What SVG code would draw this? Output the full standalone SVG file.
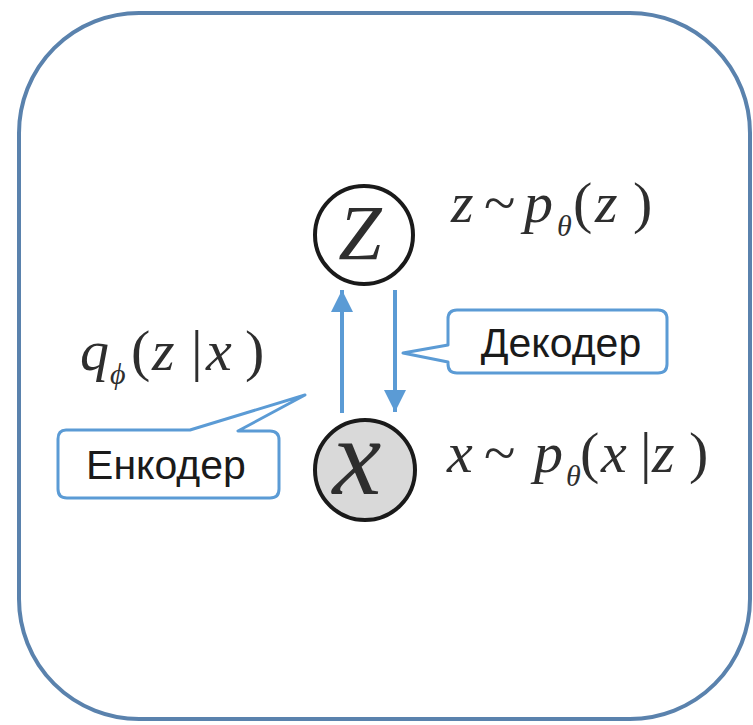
<svg xmlns="http://www.w3.org/2000/svg" width="753" height="725" viewBox="0 0 753 725">
<style>
.frame{fill:#ffffff;stroke:#5a82ad;stroke-width:4}
.node{stroke:#1a1a1a;stroke-width:4}
.call{fill:#ffffff;stroke:#5b9bd5;stroke-width:3;stroke-linejoin:round}
.conn{stroke:#5b9bd5;stroke-width:4;fill:none}
.math{font-family:"Liberation Serif","Times New Roman",serif;font-style:italic;fill:#2e2e2e}
.up{font-style:normal}
.lab{font-family:"Liberation Sans",Arial,sans-serif;font-size:41px;fill:#1a1a1a}
</style>
<defs>
<marker id="ah" viewBox="0 0 10 10" refX="10" refY="5" markerWidth="5.5" markerHeight="5.5" orient="auto" markerUnits="strokeWidth">
<path d="M0,0 L10,5 L0,10 Z" fill="#5b9bd5"/>
</marker>
</defs>
<rect width="753" height="725" fill="#ffffff"/>
<g id="frame">
<rect class="frame" x="19" y="13" width="731" height="706" rx="120" ry="120"/>
</g>
<g id="connectors">
<line class="conn" x1="342" y1="413" x2="342" y2="290" marker-end="url(#ah)"/>
<line class="conn" x1="395" y1="290" x2="395" y2="412" marker-end="url(#ah)"/>
</g>
<g id="node-z">
<circle class="node" cx="364" cy="235" r="49" fill="#ffffff"/>
<text class="math" x="360" y="259" font-size="78" text-anchor="middle">Z</text>
</g>
<g id="node-x">
<circle class="node" cx="365" cy="470" r="50" fill="#d9d9d9"/>
<text class="math" x="357" y="494" font-size="110" text-anchor="middle">x</text>
</g>
<g id="label-pz">
<text class="math" font-size="58" y="222"><tspan x="451">z</tspan><tspan class="up" x="484">~</tspan><tspan x="524">p</tspan><tspan x="557" y="236" font-size="30">θ</tspan><tspan class="up" x="573" y="222">(</tspan><tspan x="595">z</tspan><tspan class="up" x="633">)</tspan></text>
</g>
<g id="label-q">
<text class="math" font-size="58" y="370"><tspan x="80">q</tspan><tspan x="110" y="384" font-size="30">ϕ</tspan><tspan class="up" x="131" y="370">(</tspan><tspan x="152">z</tspan><tspan class="up" x="191">|</tspan><tspan x="206">x</tspan><tspan class="up" x="245">)</tspan></text>
</g>
<g id="label-px">
<text class="math" font-size="58" y="472"><tspan x="447">x</tspan><tspan class="up" x="484">~</tspan><tspan x="534">p</tspan><tspan x="566" y="486" font-size="30">θ</tspan><tspan class="up" x="580" y="472">(</tspan><tspan x="601">x</tspan><tspan class="up" x="640">|</tspan><tspan x="652">z</tspan><tspan class="up" x="689">)</tspan></text>
</g>
<g id="callout-encoder">
<path class="call" d="M66,430 H190 L305,395 L238,431 H270 Q279,431 279,440 V489 Q279,498 270,498 H67 Q58,498 58,489 V439 Q58,430 66,430 Z"/>
<text class="lab" x="166" y="479" text-anchor="middle">Енкодер</text>
</g>
<g id="callout-decoder">
<path class="call" d="M457,310 H658 Q667,310 667,319 V364 Q667,373 658,373 H457 Q448,373 448,364 V362 L403,353 L448,345 V319 Q448,310 457,310 Z"/>
<text class="lab" x="561" y="357" text-anchor="middle">Декодер</text>
</g>
</svg>
